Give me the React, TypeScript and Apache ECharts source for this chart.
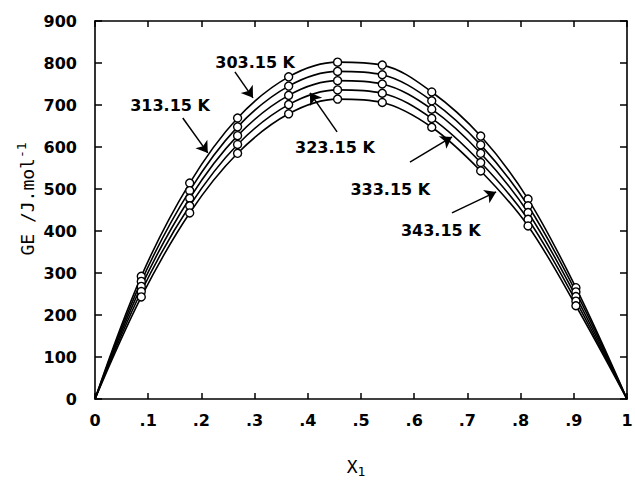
import React, { useEffect, useRef } from "react";
import * as echarts from "echarts";

// mole fractions of the measured points
const xValues = [0.087, 0.178, 0.268, 0.364, 0.456, 0.54, 0.633, 0.725, 0.814, 0.904];

// G^E values (J/mol) per temperature
const ge30315 = [292, 514, 669, 767, 802, 795, 731, 626, 476, 265];
const ge31315 = [280, 496, 648, 745, 780, 772, 710, 605, 460, 255];
const ge32315 = [268, 478, 627, 723, 758, 750, 690, 585, 444, 244];
const ge33315 = [256, 460, 606, 701, 736, 728, 668, 563, 428, 233];
const ge34315 = [243, 443, 585, 679, 714, 706, 647, 543, 412, 222];

const seriesNames = ["303.15 K", "313.15 K", "323.15 K", "333.15 K", "343.15 K"];
const seriesValues = [ge30315, ge31315, ge32315, ge33315, ge34315];

const xTickLabels = ["0", ".1", ".2", ".3", ".4", ".5", ".6", ".7", ".8", ".9", "1"];

// annotation labels (data coordinates of text centre)
const labelNames = ["303.15 K", "313.15 K", "323.15 K", "333.15 K", "343.15 K"];
const labelX = [0.301, 0.141, 0.451, 0.555, 0.65];
const labelY = [802, 700, 600, 498, 402];

// arrows: tail -> head (data coordinates)
const arrowX1 = [0.263, 0.165, 0.455, 0.592, 0.671];
const arrowY1 = [779, 669, 636, 564, 443];
const arrowX2 = [0.297, 0.212, 0.404, 0.671, 0.754];
const arrowY2 = [717, 586, 729, 624, 493];

const BOLD = "DejaVu Sans";
const MONO = "DejaVu Sans Mono";

export default function App() {
  const ref = useRef<HTMLDivElement>(null);

  useEffect(() => {
    document.body.style.margin = "0";
    if (!ref.current) return;
    const chart = echarts.init(ref.current, null, { renderer: "svg" });

    const axisLine = { show: true, onZero: false, lineStyle: { color: "#000", width: 1.6 } };
    const tick = { show: true, inside: true, length: 6, lineStyle: { color: "#000", width: 1.5 } };

    const lineSeries = seriesValues.map((vals, i) => ({
      name: seriesNames[i],
      type: "line",
      smooth: 0.35,
      showSymbol: false,
      symbol: "none",
      silent: true,
      z: 2,
      lineStyle: { color: "#000", width: 1.6 },
      data: [[0, 0], ...xValues.map((x, j) => [x, vals[j]]), [1, 0]],
    }));

    const pointSeries = seriesValues.map((vals, i) => ({
      name: seriesNames[i] + " pts",
      type: "scatter",
      symbol: "circle",
      symbolSize: 8,
      silent: true,
      z: 3,
      itemStyle: { color: "#fff", borderColor: "#000", borderWidth: 1.4, opacity: 1 },
      data: xValues.map((x, j) => [x, vals[j]]),
    }));

    const annotationSeries = {
      type: "scatter",
      symbolSize: 0,
      silent: true,
      z: 5,
      itemStyle: { opacity: 1 },
      label: {
        show: true,
        position: "inside",
        formatter: (p: any) => p.name,
        color: "#000",
        fontFamily: BOLD,
        fontWeight: "bold",
        fontSize: 16,
      },
      data: labelNames.map((n, i) => ({ name: n, value: [labelX[i], labelY[i]] })),
      markLine: {
        silent: true,
        symbol: ["none", "arrow"],
        symbolSize: 11,
        label: { show: false },
        lineStyle: { color: "#000", width: 1.5, type: "solid", opacity: 1 },
        data: arrowX1.map((x, i) => [
          { coord: [x, arrowY1[i]] },
          { coord: [arrowX2[i], arrowY2[i]] },
        ]),
      },
    };

    chart.setOption({
      animation: false,
      backgroundColor: "#fff",
      grid: { left: 95, right: 8, top: 21, bottom: 83, containLabel: false, outerBoundsMode: "none" },
      xAxis: [
        {
          type: "value",
          min: 0,
          max: 1,
          interval: 0.1,
          position: "bottom",
          axisLine,
          axisTick: tick,
          splitLine: { show: false },
          axisLabel: {
            margin: 13,
            color: "#000",
            fontFamily: BOLD,
            fontWeight: "bold",
            fontSize: 16,
            formatter: (v: number) => xTickLabels[Math.round(v * 10)] ?? "",
          },
        },
        {
          type: "value",
          min: 0,
          max: 1,
          interval: 0.1,
          position: "top",
          axisLine,
          axisTick: tick,
          splitLine: { show: false },
          axisLabel: { show: false },
        },
      ],
      yAxis: [
        {
          type: "value",
          min: 0,
          max: 900,
          interval: 100,
          position: "left",
          axisLine,
          axisTick: { ...tick, length: 7 },
          splitLine: { show: false },
          axisLabel: {
            margin: 18,
            color: "#000",
            fontFamily: BOLD,
            fontWeight: "bold",
            fontSize: 16,
          },
        },
        {
          type: "value",
          min: 0,
          max: 900,
          interval: 100,
          position: "right",
          axisLine,
          axisTick: { ...tick, length: 7 },
          splitLine: { show: false },
          axisLabel: { show: false },
        },
      ],
      graphic: [
        {
          type: "text",
          x: 27,
          y: 199,
          rotation: Math.PI / 2,
          silent: true,
          style: {
            text: "{n|GE /J.mol}{s|-1}",
            align: "center",
            verticalAlign: "middle",
            fill: "#000",
            rich: {
              n: { fontFamily: MONO, fontSize: 18, lineHeight: 24, fill: "#000" },
              s: { fontFamily: MONO, fontSize: 13, lineHeight: 14, verticalAlign: "top", fill: "#000" },
            },
          },
        },
        {
          type: "text",
          x: 356,
          y: 466,
          silent: true,
          style: {
            text: "{n|X}{s|1}",
            align: "center",
            verticalAlign: "middle",
            fill: "#000",
            rich: {
              n: { fontFamily: MONO, fontSize: 18, lineHeight: 24, fill: "#000" },
              s: { fontFamily: MONO, fontSize: 13, lineHeight: 14, verticalAlign: "bottom", fill: "#000" },
            },
          },
        },
      ],
      series: [...lineSeries, ...pointSeries, annotationSeries],
    });

    return () => chart.dispose();
  }, []);

  return <div ref={ref} style={{ width: 635, height: 482 }} />;
}
